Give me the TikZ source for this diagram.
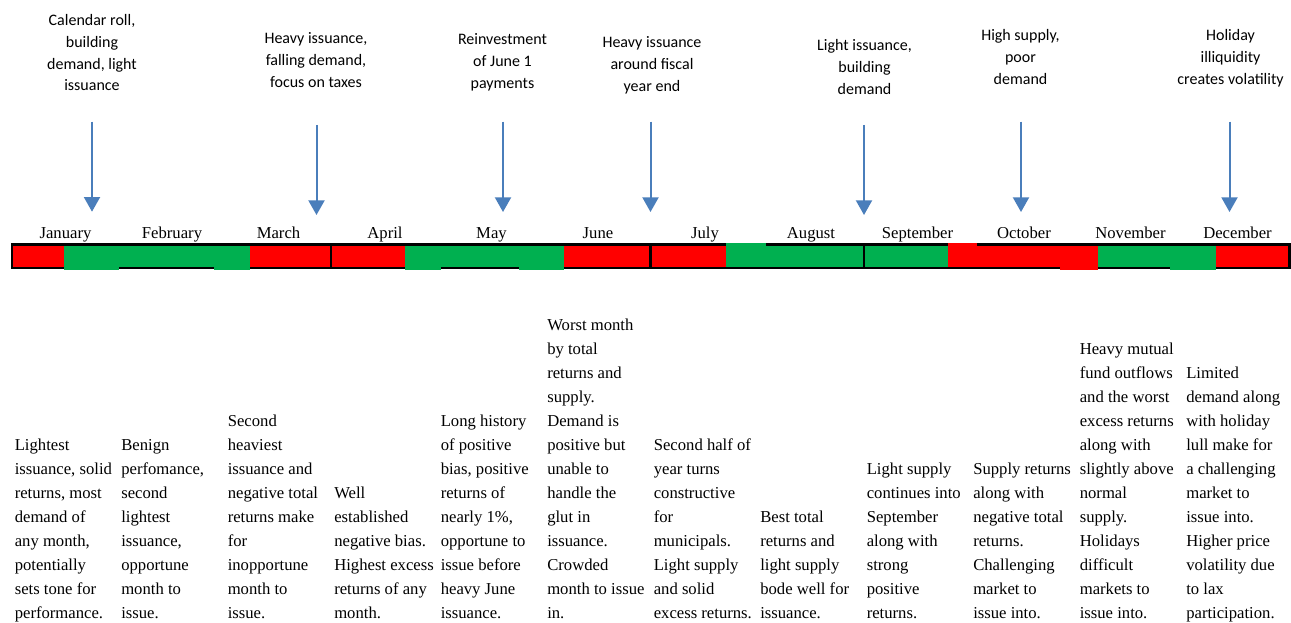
\documentclass[tikz,border=0pt]{standalone}
\usepackage{fontspec}
\setmainfont{Liberation Serif}
\newfontfamily\timesfont{Liberation Serif}
\newfontfamily\carlitofont{Carlito}
\usetikzlibrary{arrows.meta}
\definecolor{issueRed}{RGB}{255,0,0}
\definecolor{issueGreen}{RGB}{0,176,80}
\definecolor{arrowBlue}{RGB}{74,126,187}

\begin{document}
\begin{tikzpicture}[
    x=0.75pt, y=-0.75pt,
    eventNote/.style={
        inner sep=0pt, anchor=north, align=center,
        font=\carlitofont\fontsize{12}{16.4}\selectfont
    },
    eventArrow/.style={
        draw=arrowBlue, line width=1.5pt,
        -{Triangle[width=12pt,length=11pt]}
    },
    monthLabel/.style={
        inner sep=0pt, anchor=base,
        font=\timesfont\fontsize{12.5}{18}\selectfont
    },
    monthNote/.style={
        inner sep=0pt, anchor=south west, align=left,
        font=\timesfont\fontsize{12.5}{18}\selectfont
    },
    barFrame/.style={draw=black, line width=1.8pt},
    redBlock/.style={fill=issueRed},
    greenBlock/.style={fill=issueGreen}
]
    \useasboundingbox (0,0) rectangle (1291,623);
    \fill[white] (0,0) rectangle (1291,623);

    % --- 1. Seasonal events above the calendar ---
    \node[eventNote] (janEvent) at (92,9.7) {\strut Calendar roll,\\building\\demand, light\\issuance};
    \node[eventNote] (marEvent) at (316,28) {\strut Heavy issuance,\\falling demand,\\focus on taxes};
    \node[eventNote] (mayEvent) at (502.5,29) {\strut Reinvestment\\of June 1\\payments};
    \node[eventNote] (julEvent) at (652,32) {\strut Heavy issuance\\around fiscal\\year end};
    \node[eventNote] (sepEvent) at (864.5,35.4) {\strut Light issuance,\\building\\demand};
    \node[eventNote] (octEvent) at (1020.5,24.7) {\strut High supply,\\poor\\demand};
    \node[eventNote] (decEvent) at (1230.5,24.7) {\strut Holiday\\illiquidity\\creates volatility};

    \coordinate (janTail) at (92,121.7);   \coordinate (janTip) at (92,211.7);
    \coordinate (marTail) at (316.5,125);  \coordinate (marTip) at (316.5,215);
    \coordinate (mayTail) at (503,121.7);  \coordinate (mayTip) at (503,212);
    \coordinate (julTail) at (650.5,121.7); \coordinate (julTip) at (650.5,212);
    \coordinate (sepTail) at (864,125);    \coordinate (sepTip) at (864,215);
    \coordinate (octTail) at (1021,121.7); \coordinate (octTip) at (1021,212);
    \coordinate (decTail) at (1229.5,121.7); \coordinate (decTip) at (1229.5,212);

    \draw[eventArrow] (janTail) -- (janTip);
    \draw[eventArrow] (marTail) -- (marTip);
    \draw[eventArrow] (mayTail) -- (mayTip);
    \draw[eventArrow] (julTail) -- (julTip);
    \draw[eventArrow] (sepTail) -- (sepTip);
    \draw[eventArrow] (octTail) -- (octTip);
    \draw[eventArrow] (decTail) -- (decTip);

    % --- 2. Month names ---
    \node[monthLabel] (janMonth) at (65.5,238.3) {January};
    \node[monthLabel] (febMonth) at (172,238.3) {February};
    \node[monthLabel] (marMonth) at (278.5,238.3) {March};
    \node[monthLabel] (aprMonth) at (385,238.3) {April};
    \node[monthLabel] (mayMonth) at (491.5,238.3) {May};
    \node[monthLabel] (junMonth) at (598,238.3) {June};
    \node[monthLabel] (julMonth) at (705,238.3) {July};
    \node[monthLabel] (augMonth) at (811,238.3) {August};
    \node[monthLabel] (sepMonth) at (917.5,238.3) {September};
    \node[monthLabel] (octMonth) at (1024,238.3) {October};
    \node[monthLabel] (novMonth) at (1130.5,238.3) {November};
    \node[monthLabel] (decMonth) at (1237.5,238.3) {December};

    % --- 3. Issuance bar ---
    \draw[barFrame] (12,244.5) rectangle (1289.5,268);
    \fill[redBlock]   (13.2,245.7)  rectangle (63.5,266.8);
    \fill[greenBlock] (63.5,245.7)  rectangle (119,269.6);
    \fill[greenBlock] (119,245.7)   rectangle (213.7,266.8);
    \fill[greenBlock] (213.7,245.7) rectangle (250.2,269.6);
    \fill[redBlock]   (250.2,245.7) rectangle (331,266.8);
    \fill[redBlock]   (331,245.7)   rectangle (405.4,266.8);
    \fill[greenBlock] (405.4,245.7) rectangle (441,269.6);
    \fill[greenBlock] (441,245.7)   rectangle (518.7,266.8);
    \fill[greenBlock] (518.7,245.7) rectangle (564.3,269.6);
    \fill[redBlock]   (564.3,245.7) rectangle (650.5,266.8);
    \fill[redBlock]   (650.5,245.7) rectangle (725.9,266.8);
    \fill[greenBlock] (725.9,243)   rectangle (765.7,266.8);
    \fill[greenBlock] (765.7,245.7) rectangle (864,266.8);
    \fill[greenBlock] (864,245.7)   rectangle (947.9,266.8);
    \fill[redBlock]   (947.9,243)   rectangle (977.3,266.8);
    \fill[redBlock]   (977.3,245.7) rectangle (1060.3,266.8);
    \fill[redBlock]   (1060.3,245.7) rectangle (1097.7,269.6);
    \fill[greenBlock] (1097.7,245.7) rectangle (1170.3,266.8);
    \fill[greenBlock] (1170.3,245.7) rectangle (1216,269.6);
    \fill[redBlock]   (1216,245.7)  rectangle (1288.3,266.8);
    \draw[barFrame] (331,244.5) -- (331,268);
    \draw[barFrame] (650.5,244.5) -- (650.5,268);
    \draw[barFrame] (864,244.5) -- (864,268);

    % --- 4. Monthly commentary ---
    \node[monthNote] (janNote) at (14.5,626.2) {Lightest\\issuance, solid\\returns, most\\demand of\\any month,\\potentially\\sets tone for\\performance.\strut};
    \node[monthNote] (febNote) at (121,626.2) {Benign\\perfomance,\\second\\lightest\\issuance,\\opportune\\month to\\issue.\strut};
    \node[monthNote] (marNote) at (227.5,626.2) {Second\\heaviest\\issuance and\\negative total\\returns make\\for\\inopportune\\month to\\issue.\strut};
    \node[monthNote] (aprNote) at (334,626.2) {Well\\established\\negative bias.\\Highest excess\\returns of any\\month.\strut};
    \node[monthNote] (mayNote) at (440.5,626.2) {Long history\\of positive\\bias, positive\\returns of\\nearly 1\%,\\opportune to\\issue before\\heavy June\\issuance.\strut};
    \node[monthNote] (junNote) at (547,626.2) {Worst month\\by total\\returns and\\supply.\\Demand is\\positive but\\unable to\\handle the\\glut in\\issuance.\\Crowded\\month to issue\\in.\strut};
    \node[monthNote] (julNote) at (653.5,626.2) {Second half of\\year turns\\constructive\\for\\municipals.\\Light supply\\and solid\\excess returns.\strut};
    \node[monthNote] (augNote) at (760,626.2) {Best total\\returns and\\light supply\\bode well for\\issuance.\strut};
    \node[monthNote] (sepNote) at (866.5,626.2) {Light supply\\continues into\\September\\along with\\strong\\positive\\returns.\strut};
    \node[monthNote] (octNote) at (973,626.2) {Supply returns\\along with\\negative total\\returns.\\Challenging\\market to\\issue into.\strut};
    \node[monthNote] (novNote) at (1079.5,626.2) {Heavy mutual\\fund outflows\\and the worst\\excess returns\\along with\\slightly above\\normal\\supply.\\Holidays\\difficult\\markets to\\issue into.\strut};
    \node[monthNote] (decNote) at (1186,626.2) {Limited\\demand along\\with holiday\\lull make for\\a challenging\\market to\\issue into.\\Higher price\\volatility due\\to lax\\participation.\strut};
\end{tikzpicture}
\end{document}
